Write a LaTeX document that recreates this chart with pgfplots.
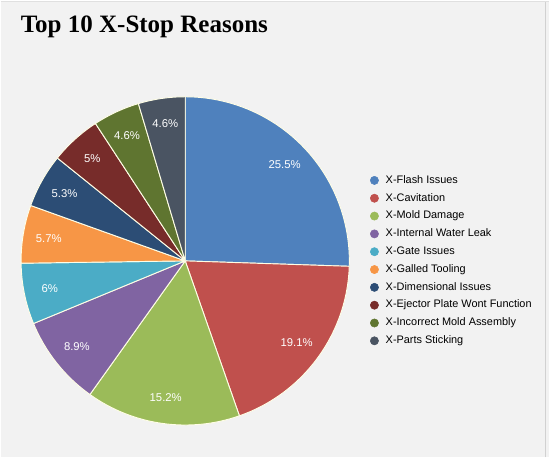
\documentclass[border=0pt]{standalone}
\usepackage{pgfplots}
\pgfplotsset{compat=1.18}
\usepackage{pgfplotstable}
\usepackage{fontspec}
\setmainfont{Liberation Sans}
\newfontfamily\titlefont{Liberation Serif}

\definecolor{bg}{HTML}{F2F2F2}
\definecolor{c0}{HTML}{4F81BD}
\definecolor{c1}{HTML}{C0504D}
\definecolor{c2}{HTML}{9BBB59}
\definecolor{c3}{HTML}{8064A2}
\definecolor{c4}{HTML}{4BACC6}
\definecolor{c5}{HTML}{F79646}
\definecolor{c6}{HTML}{2C4D75}
\definecolor{c7}{HTML}{772C2A}
\definecolor{c8}{HTML}{5F7530}
\definecolor{c9}{HTML}{4A5462}

% share of stops, in percent
\pgfplotstableread[col sep=comma]{
reason,share
X-Flash Issues,25.5
X-Cavitation,19.1
X-Mold Damage,15.2
X-Internal Water Leak,8.9
X-Gate Issues,6
X-Galled Tooling,5.7
X-Dimensional Issues,5.3
X-Ejector Plate Wont Function,5
X-Incorrect Mold Assembly,4.6
X-Parts Sticking,4.6
}\stops

\begin{document}
\begin{tikzpicture}
\begin{axis}[
    hide axis, scale only axis,
    x=0.75pt, y=0.75pt,
    xmin=0, xmax=550, ymin=0, ymax=458,
    clip=false,
    legend image code/.code={\fill[#1] (0pt,0pt) circle (3.1pt);},
    legend cell align=left,
    legend style={
        at={(axis cs:370,283)}, anchor=north west,
        draw=none, fill=none, inner sep=0pt,
        font=\fontsize{8.2}{9.5}\selectfont,
        row sep=5.8pt, column sep=5.2pt,
        nodes={inner sep=0pt, text height=5.9pt, text depth=1.7pt},
    },
]
\pgfplotsextra{
    \fill[bg] (axis cs:0,0) rectangle (axis cs:550,458);
    \draw[black!18, line width=0.8pt] (axis cs:546.5,0) -- (axis cs:546.5,458);
    \draw[black!12, line width=1pt] (axis cs:0,457) -- (axis cs:550,457);
    \pgfplotstablegetrowsof{\stops}
    \pgfmathtruncatemacro\last{\pgfplotsretval-1}
    \gdef\tot{0}
    \foreach \i in {0,...,\last}{
        \pgfplotstablegetelem{\i}{share}\of\stops
        \pgfmathparse{\tot+\pgfplotsretval}\xdef\tot{\pgfmathresult}
    }
    \gdef\angA{90}
    \foreach \i in {0,...,\last}{
        \pgfplotstablegetelem{\i}{share}\of\stops
        \let\val\pgfplotsretval
        \pgfmathsetmacro\angB{\angA-360*\val/\tot}
        \pgfmathsetmacro\angM{(\angA+\angB)/2}
        \fill[c\i, draw=white!90!yellow, line width=0.7pt, line join=round]
            (axis cs:185,197) -- ++(\angA:123.4pt)
            arc[start angle=\angA, end angle=\angB, radius=123.4pt] -- cycle;
        \path (axis cs:185,197) ++(\angM:104pt)
            node[white, font=\fontsize{8.5}{10}\selectfont] {\val\%};
        \xdef\angA{\angB}
    }
    \node[anchor=base west, font=\titlefont\bfseries\fontsize{18.8}{22}\selectfont]
        at (axis cs:15.5,425.7) {Top 10 X-Stop Reasons};
}
\addlegendimage{c0}\addlegendentry{X-Flash Issues}
\addlegendimage{c1}\addlegendentry{X-Cavitation}
\addlegendimage{c2}\addlegendentry{X-Mold Damage}
\addlegendimage{c3}\addlegendentry{X-Internal Water Leak}
\addlegendimage{c4}\addlegendentry{X-Gate Issues}
\addlegendimage{c5}\addlegendentry{X-Galled Tooling}
\addlegendimage{c6}\addlegendentry{X-Dimensional Issues}
\addlegendimage{c7}\addlegendentry{X-Ejector Plate Wont Function}
\addlegendimage{c8}\addlegendentry{X-Incorrect Mold Assembly}
\addlegendimage{c9}\addlegendentry{X-Parts Sticking}
\end{axis}
\end{tikzpicture}
\end{document}
